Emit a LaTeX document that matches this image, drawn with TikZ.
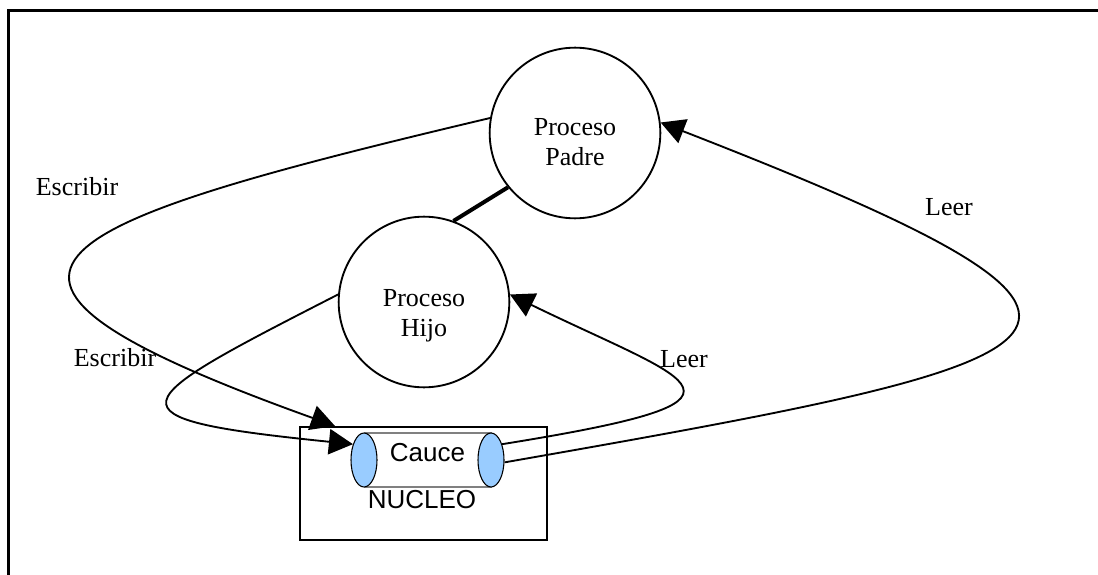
\documentclass[tikz,border=0pt]{standalone}
\usepackage{fontspec}
\setmainfont{Liberation Serif}
\newfontfamily\caucefont{Liberation Sans}
\usetikzlibrary{arrows.meta,shapes.geometric}
\definecolor{CauceBlue}{HTML}{99CCFF}
\definecolor{CauceGray}{HTML}{808080}
\tikzset{
  proc/.style={
    circle,
    draw,
    line width=1.4pt,
    minimum size=128pt,
    inner sep=0pt
  },
  proctxt/.style={align=center, inner sep=0pt,
    font=\fontsize{19.5}{22.5}\selectfont},
  tapa/.style={ellipse, draw, line width=0.8pt, fill=CauceBlue,
    minimum width=19.5pt, minimum height=40.5pt, inner sep=0pt},
  tubo/.style={rectangle, draw=CauceGray, line width=1pt, fill=white,
    minimum width=95pt, minimum height=40.5pt, inner sep=0pt,
    font=\caucefont\fontsize{19.5}{22.5}\selectfont, text depth=12pt},
  nucleobox/.style={rectangle, draw, line width=1.5pt,
    minimum width=185pt, minimum height=85pt},
  rotulo/.style={font=\fontsize{19.5}{22.5}\selectfont, inner sep=0pt},
  flujo/.style={-{Triangle[length=18pt,width=19pt]}, line width=1.4pt},
  union/.style={line width=3pt},
  marco/.style={line width=2.6pt}
}
\begin{document}
\begin{tikzpicture}[x=0.75pt,y=-0.75pt]
  \useasboundingbox (0,0) rectangle (1098,574);
  \draw[marco] (8.5,590) |- (1110,10.5);
  \node[proc, label={[proctxt, yshift=-7pt]center:Proceso\\Padre}] (padre) at (575,133) {};
  \node[proc, label={[proctxt, yshift=-10pt]center:Proceso\\Hijo}] (hijo) at (424,302) {};
  \node[nucleobox] (nucleo) at (423.5,483.5) {};
  \node[tubo] (cauce) at (427.5,460) {Cauce};
  \node[tapa] (izq) at (364,460) {};
  \node[tapa] (der) at (491,460) {};
  \node[rotulo, font=\caucefont\fontsize{19.5}{22.5}\selectfont] (nuc) at (422,500) {NUCLEO};
  \coordinate (entrada) at (335,426);
  % etiquetas de las flechas
  \node[rotulo] (escP) at (77,187) {Escribir};
  \node[rotulo] (escH) at (115,358) {Escribir};
  \node[rotulo] (leeH) at (684,359) {Leer};
  \node[rotulo] (leeP) at (949,207) {Leer};
  \draw[union] (hijo.70) -- (padre.219);
  \draw[flujo] (padre.170) .. controls +(-465,110) and +(-420,-151) .. (entrada);
  \draw[flujo] (hijo.175) .. controls +(-215,110) and +(-255,-26) .. (izq.125);
  \draw[flujo] (der.55) .. controls +(280,-45) and +(185,90) .. (hijo.5);
  \draw[flujo] (der.-10) .. controls +(600,-105) and +(540,210) .. (padre.7);
\end{tikzpicture}
\end{document}
